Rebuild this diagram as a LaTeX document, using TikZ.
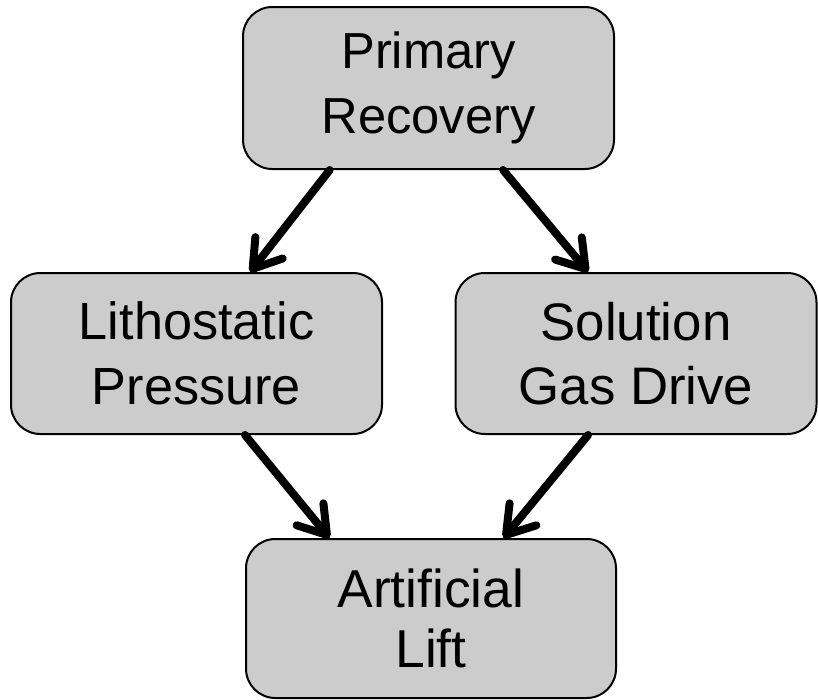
\documentclass[tikz,border=0pt]{standalone}
\usepackage{fontspec}
\setmainfont{Liberation Sans}
\usetikzlibrary{arrows.meta,calc}
\tikzset{
  box/.style={draw=black, line width=1.5pt, fill=black!20, rounded corners=22pt,
    align=center, inner sep=0pt},
  link/.style={line width=6pt, -{Straight Barb[length=20pt,width=26pt,line cap=round,line join=round]}, line cap=round}
}
\begin{document}
\begin{tikzpicture}[x=0.75pt,y=-0.75pt]
\useasboundingbox[fill=white] (0,0) rectangle (818,700);
\node[box, minimum width=278.25pt, minimum height=121.5pt, font=\fontsize{38}{48.5}\selectfont] (P) at (428.5,88) {Primary\\Recovery};
\node[box, minimum width=278.25pt, minimum height=120.75pt, font=\fontsize{39.2}{48.5}\selectfont] (L) at (196.5,353.5) {Lithostatic\\Pressure};
\node[box, minimum width=270.75pt, minimum height=120.75pt, font=\fontsize{39.6}{48.5}\selectfont] (S) at (636,353.5) {Solution\\Gas Drive};
\node[box, minimum width=277.5pt, minimum height=119.25pt, font=\fontsize{40}{45}\selectfont] (A) at (431,618.5) {Artificial\\Lift};
\draw[link] ($(P.south west)!0.235!(P.south east)$) -- ($(L.north west)!0.644!(L.north east)$);
\draw[link] ($(P.south west)!0.70!(P.south east)$) -- ($(S.north west)!0.368!(S.north east)$);
\draw[link] ($(L.south west)!0.63!(L.south east)$) -- ($(A.north west)!0.227!(A.north east)$);
\draw[link] ($(S.south west)!0.368!(S.south east)$) -- ($(A.north west)!0.695!(A.north east)$);
\end{tikzpicture}
\end{document}
